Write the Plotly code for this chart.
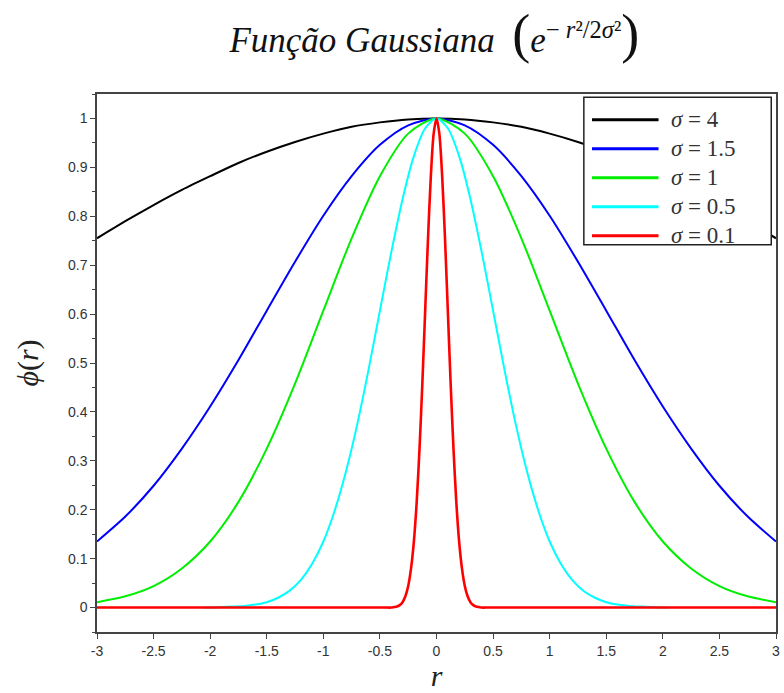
import plotly.graph_objects as go

# Sample points (r >= 0) and curve values; each curve is symmetric about r = 0
r_wide = [0.0, 0.25, 0.5, 0.75, 1.0, 1.25, 1.5, 1.75, 2.0, 2.25, 2.5, 2.75, 3.0]
phi_s4 = [1.0, 0.998, 0.992, 0.983, 0.969, 0.952, 0.932, 0.909, 0.882, 0.854, 0.823, 0.790, 0.755]
phi_s15 = [1.0, 0.986, 0.946, 0.882, 0.801, 0.707, 0.607, 0.506, 0.411, 0.325, 0.249, 0.186, 0.135]
phi_s1 = [1.0, 0.969, 0.882, 0.755, 0.607, 0.458, 0.325, 0.216, 0.135, 0.080, 0.044, 0.023, 0.011]

r_mid = [0.0, 0.1, 0.2, 0.3, 0.4, 0.5, 0.6, 0.7, 0.8, 0.9, 1.0, 1.1, 1.2, 1.3, 1.4,
         1.5, 1.6, 1.7, 1.8, 1.9, 2.0, 2.05]
phi_s05 = [1.0, 0.980, 0.923, 0.835, 0.726, 0.607, 0.487, 0.375, 0.278, 0.198, 0.135,
           0.089, 0.056, 0.034, 0.020, 0.011, 0.006, 0.003, 0.002, 0.001, 0.0, 0.0]

r_narrow = [0.0, 0.025, 0.05, 0.075, 0.1, 0.125, 0.15, 0.175, 0.2, 0.225, 0.25, 0.275,
            0.3, 0.325, 0.35, 0.375, 0.4, 0.45, 0.5, 1.0, 1.5, 2.0, 2.5, 3.0]
phi_s01 = [1.0, 0.969, 0.882, 0.755, 0.607, 0.458, 0.325, 0.216, 0.135, 0.080, 0.044,
           0.023, 0.011, 0.005, 0.002, 0.001, 0.0, 0.0, 0.0, 0.0, 0.0, 0.0, 0.0, 0.0]

series = [
    ("<i>σ</i> = 4", "#000000", 2, r_wide, phi_s4),
    ("<i>σ</i> = 1.5", "#0000ff", 2, r_wide, phi_s15),
    ("<i>σ</i> = 1", "#00ee00", 2, r_wide, phi_s1),
    ("<i>σ</i> = 0.5", "#00ffff", 2, r_mid, phi_s05),
    ("<i>σ</i> = 0.1", "#ff0000", 2.6, r_narrow, phi_s01),
]

x_ticks = [-3, -2.5, -2, -1.5, -1, -0.5, 0, 0.5, 1, 1.5, 2, 2.5, 3]
x_labels = ["-3", "-2.5", "-2", "-1.5", "-1", "-0.5", "0", "0.5", "1", "1.5", "2", "2.5", "3"]
y_ticks = [0, 0.1, 0.2, 0.3, 0.4, 0.5, 0.6, 0.7, 0.8, 0.9, 1]
y_labels = ["0", "0.1", "0.2", "0.3", "0.4", "0.5", "0.6", "0.7", "0.8", "0.9", "1"]


def mirrored(rs, vals):
    xs = [-r for r in reversed(rs[1:])] + list(rs)
    ys = list(reversed(vals[1:])) + list(vals)
    return xs, ys


fig = go.Figure()
for name, color, width, rs, vals in series:
    xs, ys = mirrored(rs, vals)
    fig.add_trace(go.Scatter(
        x=xs, y=ys, mode="lines", name=name, showlegend=False,
        line=dict(color=color, width=width, shape="spline", smoothing=0.8),
    ))

serif = "Liberation Serif, DejaVu Serif, serif"
sans = "Liberation Sans, Arial, sans-serif"

# Boxed legend in the upper-right corner of the axes (paper coordinates)
leg_x0, leg_x1, leg_y0, leg_y1 = 0.717, 0.993, 0.720, 0.994
fig.add_shape(type="rect", xref="paper", yref="paper",
              x0=leg_x0, x1=leg_x1, y0=leg_y0, y1=leg_y1,
              line=dict(color="#222222", width=1.5), fillcolor="white", layer="above")
row_top, row_step = 0.952, 0.0539
for i, (name, color, _, _, _) in enumerate(series):
    yy = row_top - i * row_step
    fig.add_shape(type="line", xref="paper", yref="paper",
                  x0=0.729, x1=0.827, y0=yy, y1=yy,
                  line=dict(color=color, width=3), layer="above")
    fig.add_annotation(xref="paper", yref="paper", x=0.843, y=yy,
                       xanchor="left", yanchor="middle", showarrow=False,
                       text=name, font=dict(family=serif, size=23, color="#333333"))

fig.update_layout(
    width=784, height=693,
    margin=dict(l=97, r=4, t=94, b=61),
    paper_bgcolor="white", plot_bgcolor="white",
    showlegend=False,
    title=dict(
        text=("<i>Função Gaussiana</i>  <span style='font-size:54px'>(</span>"
              "<i>e</i><sup>− <i>r</i>²/2<i>σ</i>²</sup>"
              "<span style='font-size:54px'>)</span>"),
        x=0.554, xanchor="center", y=0.942, yanchor="middle",
        font=dict(family=serif, size=35, color="#111111"),
    ),
    xaxis=dict(
        range=[-3, 3], tickvals=x_ticks, ticktext=x_labels,
        showgrid=False, zeroline=False,
        showline=True, linecolor="#444444", linewidth=1.5, mirror=True,
        ticks="outside", ticklen=5, tickcolor="#444444",
        tickfont=dict(family=sans, size=14, color="#333333"),
        title=dict(text="<i>r</i>", font=dict(family=serif, size=30, color="#222222"), standoff=4),
    ),
    yaxis=dict(
        range=[-0.05, 1.05], tickvals=y_ticks, ticktext=y_labels,
        showgrid=False, zeroline=False,
        showline=True, linecolor="#444444", linewidth=1.5, mirror=True,
        ticks="outside", ticklen=5, tickcolor="#444444",
        tickfont=dict(family=sans, size=14, color="#333333"),
        minor=dict(dtick=0.05, tick0=0, ticks="outside", ticklen=3, tickcolor="#444444", showgrid=False),
        title=dict(text="<i>ϕ</i>(<i>r</i>)", font=dict(family=serif, size=30, color="#222222"), standoff=20),
    ),
)

fig.write_html("out.html")
